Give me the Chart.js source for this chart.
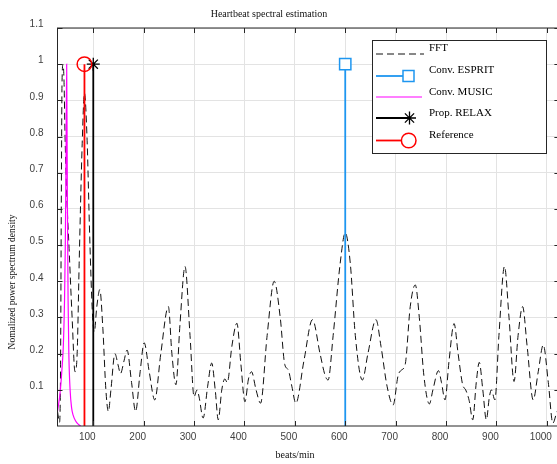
<!DOCTYPE html>
<html><head><meta charset="utf-8">
<script src="https://cdn.jsdelivr.net/npm/chart.js@4"></script>
<style>
html,body{margin:0;padding:0;background:#fff;overflow:hidden}
#wrap{width:557px;height:464px;overflow:hidden;position:relative;background:#fff}
canvas{display:block}
</style></head><body>
<div id="wrap"><canvas id="c" width="562" height="464"></canvas></div>
<script>
// ---- data ----
const fftBpm = [29, 33, 35, 36.5, 38, 40, 42, 44, 47, 52, 58, 63.7, 68, 72, 78, 82.5, 87.5, 93, 98, 102, 107, 113, 119, 125, 130, 135, 143, 149, 154, 161, 167, 176, 184, 193, 201, 211, 222, 234, 249, 256, 264, 272, 282, 292, 300, 306, 310, 318, 327, 335, 342, 348, 355, 361, 366, 375, 385, 393, 401, 408, 414, 423, 432, 445, 459, 471, 480, 487, 494, 502, 518, 535, 550, 560, 566, 576, 590, 600, 610, 620, 634, 645, 661, 671, 683, 695, 705, 712, 719, 729, 739, 747, 756, 767, 774, 785, 791, 798, 806, 816, 824, 833, 839, 846, 853, 860, 866, 873, 880, 886, 890, 897, 905, 916, 925, 935, 943, 952, 961, 973, 983, 993, 1003, 1012, 1020];
const fftVal = [0.04, 0.01, 0.15, 0.6, 0.95, 1.0, 0.95, 0.8, 0.65, 0.49, 0.3, 0.15, 0.2, 0.45, 0.78, 0.92, 0.8, 0.52, 0.32, 0.26, 0.33, 0.377, 0.27, 0.1, 0.04, 0.1, 0.2, 0.17, 0.145, 0.18, 0.21, 0.12, 0.04, 0.15, 0.23, 0.15, 0.072, 0.2, 0.33, 0.2, 0.114, 0.28, 0.441, 0.25, 0.081, 0.1, 0.08, 0.022, 0.11, 0.174, 0.1, 0.017, 0.1, 0.13, 0.12, 0.22, 0.284, 0.17, 0.067, 0.13, 0.15, 0.1, 0.063, 0.25, 0.40, 0.3, 0.17, 0.155, 0.11, 0.063, 0.18, 0.294, 0.2, 0.14, 0.127, 0.25, 0.45, 0.534, 0.45, 0.25, 0.127, 0.2, 0.294, 0.22, 0.11, 0.058, 0.14, 0.155, 0.17, 0.33, 0.39, 0.3, 0.14, 0.061, 0.1, 0.153, 0.12, 0.072, 0.18, 0.283, 0.2, 0.114, 0.1, 0.07, 0.017, 0.12, 0.176, 0.1, 0.017, 0.08, 0.1, 0.072, 0.25, 0.441, 0.3, 0.123, 0.25, 0.33, 0.22, 0.072, 0.15, 0.224, 0.12, 0.008, 0.04];
const musicBpm = [29, 34, 38, 40.5, 43, 44.5, 46, 47.2, 48.5, 50, 51.5, 54, 57, 60, 65, 70, 75];
const musicVal = [0.04, 0.09, 0.16, 0.22, 0.35, 0.5, 0.75, 1.0, 0.65, 0.35, 0.2, 0.1, 0.05, 0.03, 0.014, 0.005, 0];
const espritBpm = [600, 600];
const espritVal = [0, 1];
const relaxBpm = [100, 100];
const relaxVal = [0, 1];
const refBpm = [82.5, 82.5];
const refVal = [0, 1];
const xTicks = [100, 200, 300, 400, 500, 600, 700, 800, 900, 1000];
const xTickLabels = ['100', '200', '300', '400', '500', '600', '700', '800', '900', '1000'];
const yTicks = [0.1, 0.2, 0.3, 0.4, 0.5, 0.6, 0.7, 0.8, 0.9, 1.0, 1.1];
const yTickLabels = ['0.1', '0.2', '0.3', '0.4', '0.5', '0.6', '0.7', '0.8', '0.9', '1', '1.1'];
const seriesNames = ['FFT', 'Conv. ESPRIT', 'Conv. MUSIC', 'Prop. RELAX', 'Reference'];

const pts = (xs, ys) => xs.map((x, i) => ({x: x, y: ys[i]}));
const topOnly = r => (c => c.dataIndex === 1 ? r : 0);

const BLUE = '#1E96F0', MAG = '#FF00FF', RED = '#FF0000', BLK = '#111111';
const DASH = [7, 4];

function star(ctx, x, y, r) {
  ctx.beginPath();
  for (let k = 0; k < 4; k++) {
    const a = k * Math.PI / 4;
    ctx.moveTo(x - r * Math.cos(a), y - r * Math.sin(a));
    ctx.lineTo(x + r * Math.cos(a), y + r * Math.sin(a));
  }
  ctx.stroke();
}

const deco = {
  id: 'deco',
  afterDraw(chart) {
    const ctx = chart.ctx, a = chart.chartArea, xs = chart.scales.x, ys = chart.scales.y;
    ctx.save();
    // inner tick marks
    ctx.strokeStyle = '#262626'; ctx.lineWidth = 1;
    ctx.beginPath();
    xTicks.forEach(v => {
      const px = Math.round(xs.getPixelForValue(v)) + 0.5;
      ctx.moveTo(px, a.top); ctx.lineTo(px, a.top + 5);
      ctx.moveTo(px, a.bottom); ctx.lineTo(px, a.bottom - 5);
    });
    yTicks.forEach(v => {
      const py = Math.round(ys.getPixelForValue(v)) + 0.5;
      ctx.moveTo(a.left, py); ctx.lineTo(a.left + 5, py);
      ctx.moveTo(a.right, py); ctx.lineTo(a.right - 5, py);
    });
    ctx.stroke();
    ctx.strokeRect(a.left, a.top, a.right - a.left, a.bottom - a.top);

    // legend
    const L = 372.5, T = 40.5, W = 174, H = 113;
    ctx.fillStyle = '#fff';
    ctx.fillRect(L, T, W, H);
    ctx.strokeStyle = '#262626'; ctx.lineWidth = 1;
    ctx.strokeRect(L, T, W, H);
    ctx.font = '11px "Liberation Serif", "Times New Roman", serif';
    ctx.fillStyle = '#000'; ctx.textAlign = 'left'; ctx.textBaseline = 'middle';
    const rowsText = [48.5, 70, 92, 113, 135];
    const rowsLine = [54, 76, 97, 118, 140.5];
    seriesNames.forEach((n, i) => ctx.fillText(n, 429, rowsText[i]));
    // FFT sample
    ctx.setLineDash(DASH); ctx.strokeStyle = BLK; ctx.lineWidth = 1;
    ctx.beginPath(); ctx.moveTo(376, rowsLine[0]); ctx.lineTo(424, rowsLine[0]); ctx.stroke();
    ctx.setLineDash([]);
    // ESPRIT
    ctx.strokeStyle = BLUE; ctx.lineWidth = 1.8;
    ctx.beginPath(); ctx.moveTo(376, rowsLine[1]); ctx.lineTo(403, rowsLine[1]); ctx.stroke();
    ctx.lineWidth = 1.5; ctx.strokeRect(403, rowsLine[1] - 5.5, 11, 11);
    // MUSIC
    ctx.strokeStyle = MAG; ctx.lineWidth = 1.2;
    ctx.beginPath(); ctx.moveTo(376, rowsLine[2]); ctx.lineTo(422, rowsLine[2]); ctx.stroke();
    // RELAX
    ctx.strokeStyle = '#000'; ctx.lineWidth = 1.8;
    ctx.beginPath(); ctx.moveTo(376, rowsLine[3]); ctx.lineTo(409, rowsLine[3]); ctx.stroke();
    ctx.lineWidth = 1.3; star(ctx, 409.5, rowsLine[3], 6.5);
    // Reference
    ctx.strokeStyle = RED; ctx.lineWidth = 1.8;
    ctx.beginPath(); ctx.moveTo(376, rowsLine[4]); ctx.lineTo(401, rowsLine[4]); ctx.stroke();
    ctx.lineWidth = 1.5;
    ctx.beginPath(); ctx.arc(408.7, rowsLine[4], 7.3, 0, Math.PI * 2); ctx.stroke();

    // title and axis titles
    ctx.fillStyle = '#111';
    ctx.textAlign = 'center'; ctx.textBaseline = 'middle';
    ctx.font = '10px "Liberation Serif", "Times New Roman", serif';
    ctx.fillText('Heartbeat spectral estimation', 269, 14);
    ctx.fillText('beats/min', 295, 455);
    ctx.save();
    ctx.translate(12.5, 282);
    ctx.rotate(-Math.PI / 2);
    ctx.font = '9.5px "Liberation Serif", "Times New Roman", serif';
    ctx.fillText('Nomalized power spectrum density', 0, 0);
    ctx.restore();
    ctx.restore();
  }
};

new Chart(document.getElementById('c'), {
  type: 'line',
  data: {
    datasets: [
      {label: seriesNames[0], data: pts(fftBpm, fftVal), borderColor: BLK, borderWidth: 1, borderDash: DASH,
       pointRadius: 0, pointHoverRadius: 0, cubicInterpolationMode: 'monotone', fill: false, order: 5},
      {label: seriesNames[1], data: pts(espritBpm, espritVal), borderColor: BLUE, borderWidth: 1.8,
       pointStyle: 'rect', pointRadius: topOnly(8), pointHoverRadius: topOnly(8), pointBorderColor: BLUE,
       pointBackgroundColor: '#ffffff', pointBorderWidth: 1.5, fill: false, order: 4},
      {label: seriesNames[2], data: pts(musicBpm, musicVal), borderColor: MAG, borderWidth: 1.2,
       pointRadius: 0, pointHoverRadius: 0, cubicInterpolationMode: 'monotone', fill: false, order: 3},
      {label: seriesNames[3], data: pts(relaxBpm, relaxVal), borderColor: '#000', borderWidth: 1.8,
       pointStyle: 'star', pointRadius: topOnly(6.5), pointHoverRadius: topOnly(6.5), pointBorderColor: '#000',
       pointBorderWidth: 1.3, fill: false, order: 2},
      {label: seriesNames[4], data: pts(refBpm, refVal), borderColor: RED, borderWidth: 1.8,
       pointStyle: 'circle', pointRadius: topOnly(7.3), pointHoverRadius: topOnly(7.3), pointBorderColor: RED,
       pointBackgroundColor: 'rgba(255,255,255,0)', pointBorderWidth: 1.5, fill: false, order: 1}
    ]
  },
  options: {
    responsive: false, animation: false, devicePixelRatio: 1,
    layout: {autoPadding: false, padding: {left: 0, right: 2.6, top: 28, bottom: 0}},
    plugins: {legend: {display: false}, title: {display: false}, tooltip: {enabled: false}},
    scales: {
      x: {
        type: 'linear', min: 29, max: 1025,
        afterBuildTicks: s => { s.ticks = xTicks.map(v => ({value: v})); },
        afterFit: s => { s.height = 38; s.paddingLeft = 0; s.paddingRight = 0; },
        ticks: {font: {family: '"Liberation Sans", Arial, sans-serif', size: 10}, color: '#404040',
                padding: 5, labelOffset: -6, maxRotation: 0, autoSkip: false,
                callback: (v, i) => xTickLabels[i]},
        grid: {color: '#e3e3e3', lineWidth: 1, drawTicks: false},
        border: {display: false}
      },
      y: {
        type: 'linear', min: 0, max: 1.1,
        afterBuildTicks: s => { s.ticks = yTicks.map(v => ({value: v})); },
        afterFit: s => { s.width = 57.5; s.paddingTop = 0; s.paddingBottom = 0; },
        ticks: {font: {family: '"Liberation Sans", Arial, sans-serif', size: 10}, color: '#404040',
                padding: 14, labelOffset: -3.5, autoSkip: false,
                callback: (v, i) => yTickLabels[i]},
        grid: {color: '#e3e3e3', lineWidth: 1, drawTicks: false},
        border: {display: false}
      }
    }
  },
  plugins: [deco]
});
</script>
</body></html>
